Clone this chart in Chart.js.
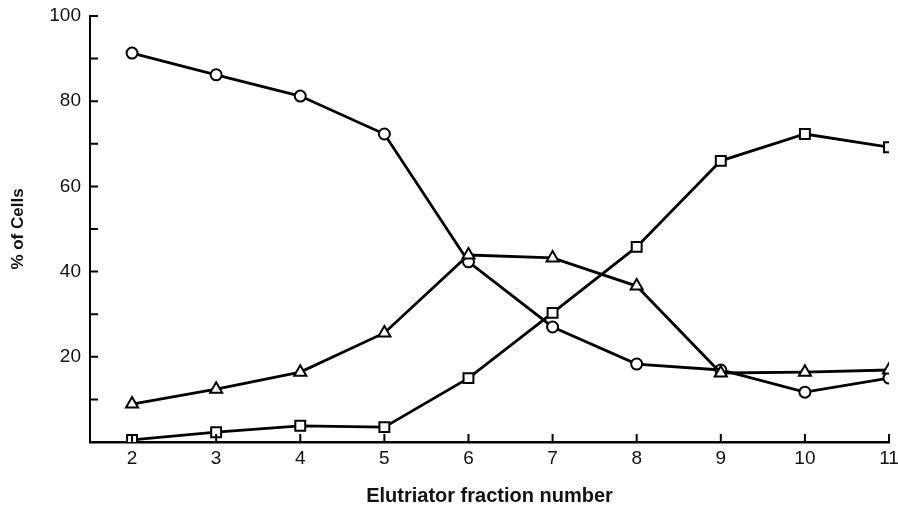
<!DOCTYPE html>
<html>
<head>
<meta charset="utf-8">
<script src="https://cdn.jsdelivr.net/npm/chart.js@4/dist/chart.umd.min.js"></script>
<style>
  body { margin: 0; background: #fff; }
  canvas { display: block; }
</style>
</head>
<body>
<canvas id="myChart" width="898" height="509"></canvas>
<script>
// Elutriator fractions and % of cells for each marker type
const fractions = [2, 3, 4, 5, 6, 7, 8, 9, 10, 11];
const circles   = [91.3, 86.2, 81.2, 72.3, 42.3, 27.0, 18.3, 16.9, 11.7, 15.0];
const triangles = [8.9, 12.4, 16.4, 25.6, 43.9, 43.2, 36.6, 16.2, 16.4, 16.9];
const squares   = [0.5, 2.3, 3.8, 3.5, 15.0, 30.3, 45.8, 66.0, 72.3, 69.2];
const yTickLabels = [20, 40, 60, 80, 100];

const toPoints = vals => vals.map((v, i) => ({ x: fractions[i], y: v }));

const lineStyle = {
    borderColor: '#000',
    borderWidth: 2.8,
    pointBackgroundColor: '#fff',
    pointBorderColor: '#000',
    pointBorderWidth: 2,
    tension: 0,
    fill: false
};

// tick marks drawn inward from the axis lines, as in the original figure
const innerTicks = {
    id: 'innerTicks',
    afterDraw(chart) {
        const ctx = chart.ctx;
        const xs = chart.scales.x, ys = chart.scales.y;
        const area = chart.chartArea;
        ctx.save();
        ctx.strokeStyle = '#000';
        ctx.lineWidth = 2;
        ctx.beginPath();
        ys.ticks.forEach(t => {
            if (t.value <= 0) return;
            const py = ys.getPixelForValue(t.value);
            ctx.moveTo(area.left, py);
            ctx.lineTo(area.left + 8, py);
        });
        xs.ticks.forEach(t => {
            const px = xs.getPixelForValue(t.value);
            ctx.moveTo(px, area.bottom);
            ctx.lineTo(px, area.bottom - 8);
        });
        ctx.stroke();
        ctx.restore();
    }
};

const data = {
    datasets: [
        Object.assign({ label: 'squares', data: toPoints(squares), pointStyle: 'rect', pointRadius: 7 }, lineStyle),
        Object.assign({ label: 'triangles', data: toPoints(triangles), pointStyle: 'triangle', pointRadius: 7 }, lineStyle),
        Object.assign({ label: 'circles', data: toPoints(circles), pointStyle: 'circle', pointRadius: 5.5 }, lineStyle)
    ]
};

const config = {
    type: 'line',
    data: data,
    options: {
        responsive: false,
        animation: false,
        layout: { padding: { top: 16, right: 5, left: 0, bottom: 0 } },
        plugins: {
            legend: { display: false },
            tooltip: { enabled: false }
        },
        scales: {
            x: {
                type: 'linear',
                min: 1.5,
                max: 11,
                afterBuildTicks: s => { s.ticks = fractions.map(v => ({ value: v })); },
                afterFit: s => { s.height = 67; s.paddingLeft = 0; s.paddingRight = 0; },
                grid: { display: false, drawTicks: false },
                border: { color: '#000', width: 2.5 },
                ticks: {
                    color: '#111',
                    font: { family: 'Liberation Sans', size: 19 },
                    padding: 5,
                    maxRotation: 0
                },
                title: {
                    display: true,
                    text: 'Elutriator fraction number',
                    color: '#111',
                    font: { family: 'Liberation Sans', size: 20, weight: 'bold' },
                    padding: { top: 0, bottom: 1 }
                }
            },
            y: {
                min: 0,
                max: 100,
                afterFit: s => { s.width = 90; s.paddingTop = 0; s.paddingBottom = 0; },
                grid: { display: false, drawTicks: false },
                border: { color: '#000', width: 2 },
                ticks: {
                    stepSize: 10,
                    color: '#111',
                    font: { family: 'Liberation Sans', size: 19 },
                    padding: 9,
                    callback: v => yTickLabels.includes(v) ? String(v) : ''
                },
                title: {
                    display: true,
                    text: '% of Cells',
                    color: '#111',
                    font: { family: 'Liberation Sans', size: 17, weight: 'bold' },
                    padding: { top: 8, bottom: 0 }
                }
            }
        }
    },
    plugins: [innerTicks]
};

const ctx = document.getElementById('myChart').getContext('2d');
const myChart = new Chart(ctx, config);
</script>
</body>
</html>
